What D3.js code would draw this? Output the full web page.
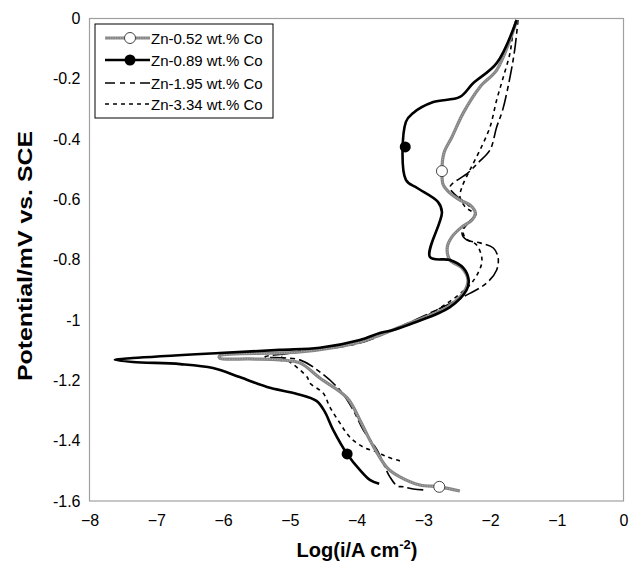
<!DOCTYPE html>
<html><head><meta charset="utf-8">
<script src="https://cdn.jsdelivr.net/npm/d3@7"></script>
<style>body{margin:0;background:#fff}svg{display:block}text{font-family:"Liberation Sans",Arial,sans-serif}</style>
</head><body>
<svg id="c" width="632" height="564"></svg>
<script>
const xTicks = [-8,-7,-6,-5,-4,-3,-2,-1,0];
const yTicks = [0,-0.2,-0.4,-0.6,-0.8,-1,-1.2,-1.4,-1.6];
const seriesNames = ["Zn-0.52 wt.% Co","Zn-0.89 wt.% Co","Zn-1.95 wt.% Co","Zn-3.34 wt.% Co"];

const s052 = [[-2.45,-1.567],[-2.76,-1.553],[-3.05,-1.547],[-3.35,-1.52],[-3.54,-1.49],[-3.69,-1.441],[-3.8,-1.398],[-3.95,-1.331],[-4.14,-1.258],[-4.55,-1.192],[-4.85,-1.142],[-5.15,-1.132],[-5.6,-1.129],[-6.05,-1.126],[-6.05,-1.119],[-4.85,-1.106],[-3.95,-1.073],[-3.65,-1.05],[-3.2,-1.01],[-2.64,-0.957],[-2.4,-0.91],[-2.33,-0.867],[-2.42,-0.827],[-2.6,-0.801],[-2.64,-0.758],[-2.57,-0.724],[-2.42,-0.691],[-2.27,-0.668],[-2.22,-0.645],[-2.3,-0.618],[-2.45,-0.602],[-2.6,-0.579],[-2.7,-0.552],[-2.72,-0.506],[-2.69,-0.446],[-2.57,-0.393],[-2.4,-0.313],[-2.15,-0.227],[-1.9,-0.171],[-1.7,-0.071],[-1.6,-0.005]];
const s089 = [[-3.66,-1.543],[-3.8,-1.53],[-3.95,-1.497],[-4.14,-1.444],[-4.35,-1.364],[-4.48,-1.302],[-4.6,-1.268],[-4.89,-1.245],[-5.34,-1.222],[-5.75,-1.189],[-6.15,-1.159],[-6.64,-1.146],[-7.35,-1.139],[-7.62,-1.132],[-7.35,-1.126],[-6.05,-1.109],[-5.15,-1.099],[-4.55,-1.092],[-3.95,-1.066],[-3.65,-1.043],[-3.45,-1.033],[-3.15,-1.01],[-2.6,-0.957],[-2.35,-0.9],[-2.32,-0.867],[-2.4,-0.827],[-2.6,-0.801],[-2.9,-0.791],[-2.72,-0.642],[-2.78,-0.608],[-3.09,-0.562],[-3.26,-0.535],[-3.26,-0.343],[-3.15,-0.313],[-2.85,-0.277],[-2.45,-0.26],[-2.25,-0.214],[-1.9,-0.148],[-1.6,-0.005]];
const s195 = [[-3.0,-1.563],[-3.15,-1.56],[-3.3,-1.553],[-3.39,-1.55],[-3.5,-1.52],[-3.6,-1.474],[-3.69,-1.431],[-3.9,-1.364],[-4.05,-1.298],[-4.25,-1.232],[-4.55,-1.172],[-4.85,-1.132],[-5.37,-1.122],[-4.85,-1.106],[-3.95,-1.076],[-3.39,-1.026],[-2.9,-0.977],[-2.4,-0.923],[-2.05,-0.877],[-1.9,-0.834],[-1.88,-0.791],[-1.95,-0.761],[-2.15,-0.744],[-2.35,-0.734],[-2.42,-0.711],[-2.3,-0.671],[-2.21,-0.648],[-2.33,-0.618],[-2.52,-0.585],[-2.6,-0.559],[-2.33,-0.512],[-2.18,-0.479],[-2.0,-0.436],[-1.9,-0.36],[-1.81,-0.303],[-1.7,-0.194],[-1.63,-0.104],[-1.58,-0.005]];
const s334 = [[-3.35,-1.467],[-3.54,-1.454],[-3.69,-1.438],[-3.9,-1.421],[-4.1,-1.388],[-4.25,-1.341],[-4.4,-1.288],[-4.5,-1.242],[-4.7,-1.209],[-4.74,-1.189],[-5.04,-1.132],[-5.15,-1.119],[-4.85,-1.103],[-3.95,-1.069],[-3.42,-1.03],[-2.9,-0.98],[-2.33,-0.89],[-2.18,-0.844],[-2.12,-0.801],[-2.2,-0.751],[-2.37,-0.728],[-2.4,-0.695],[-2.22,-0.652],[-2.37,-0.625],[-2.45,-0.592],[-2.42,-0.559],[-2.3,-0.502],[-2.15,-0.436],[-2.0,-0.36],[-1.9,-0.27],[-1.8,-0.194],[-1.7,-0.114],[-1.65,-0.038],[-1.61,-0.005]];
const markers052 = [[-2.72,-0.506],[-2.76,-1.553]];
const markers089 = [[-3.27,-0.426],[-4.14,-1.444]];

const svg = d3.select("#c");
const L=89.5,R=623.5,T=18.5,B=501;
const x = d3.scaleLinear().domain([-8,0]).range([L,R]);
const y = d3.scaleLinear().domain([-1.6,0]).range([B,T]);

svg.append("rect").attr("x",L).attr("y",T).attr("width",R-L).attr("height",B-T)
  .attr("fill","none").attr("stroke","#a0a0a0").attr("stroke-width",1.2);

const xa = svg.append("g").attr("transform",`translate(0,${B})`)
  .call(d3.axisBottom(x).tickValues(xTicks).tickSize(0).tickPadding(14).tickFormat(d3.format("")));
xa.select(".domain").remove();
xa.selectAll("text").attr("font-size",16).attr("font-family","Liberation Sans, Arial").attr("fill","#000");
const ya = svg.append("g").attr("transform",`translate(${L},0)`)
  .call(d3.axisLeft(y).tickValues(yTicks).tickSize(0).tickPadding(9).tickFormat(d=>String(d)));
ya.select(".domain").remove();
ya.selectAll("text").attr("font-size",16).attr("font-family","Liberation Sans, Arial").attr("fill","#000");

const line = d3.line().x(d=>x(d[0])).y(d=>y(d[1])).curve(d3.curveCatmullRom.alpha(0.5));
const styles = [
  {data:s195, stroke:"#000", w:1.6, dash:"16,4,5,4"},
  {data:s334, stroke:"#000", w:1.6, dash:"4,4"},
  {data:s052, stroke:"#858585", w:3.2, dash:null, tex:true},
  {data:s089, stroke:"#000", w:2.6, dash:null},
];
styles.forEach(s=>{
  const p = svg.append("path").attr("d",line(s.data)).attr("fill","none")
    .attr("stroke",s.stroke).attr("stroke-width",s.w).attr("stroke-linejoin","round");
  if(s.dash) p.attr("stroke-dasharray",s.dash);
  if(s.tex) svg.append("path").attr("d",line(s.data)).attr("fill","none")
    .attr("stroke","#b5b5b5").attr("stroke-width",1).attr("stroke-dasharray","1,1.5");
});
svg.selectAll(".m052").data(markers052).join("circle").attr("cx",d=>x(d[0])).attr("cy",d=>y(d[1]))
  .attr("r",5.5).attr("fill","#fff").attr("stroke","#444").attr("stroke-width",1);
svg.selectAll(".m089").data(markers089).join("circle").attr("cx",d=>x(d[0])).attr("cy",d=>y(d[1]))
  .attr("r",5.5).attr("fill","#000");

// legend
const lg = svg.append("g");
lg.append("rect").attr("x",95).attr("y",24).attr("width",178).attr("height",94)
  .attr("fill","#fff").attr("stroke","#000").attr("stroke-width",1);
const ly = [38,60,83,104];
const lst = [
  {stroke:"#858585",w:3.2,dash:null,tex:true,mk:"open"},
  {stroke:"#000",w:2.6,dash:null,mk:"fill"},
  {stroke:"#000",w:1.6,dash:"10,5,5,5,5,5,10"},
  {stroke:"#000",w:1.6,dash:"4,4"}
];
seriesNames.forEach((n,i)=>{
  const s=lst[i];
  const l=lg.append("line").attr("x1",105).attr("x2",150).attr("y1",ly[i]).attr("y2",ly[i])
    .attr("stroke",s.stroke).attr("stroke-width",s.w);
  if(s.dash) l.attr("stroke-dasharray",s.dash);
  if(s.tex) lg.append("line").attr("x1",105).attr("x2",150).attr("y1",ly[i]).attr("y2",ly[i])
    .attr("stroke","#b5b5b5").attr("stroke-width",1).attr("stroke-dasharray","1,1.5");
  if(s.mk==="open") lg.append("circle").attr("cx",130).attr("cy",ly[i]).attr("r",5.5).attr("fill","#fff").attr("stroke","#444");
  if(s.mk==="fill") lg.append("circle").attr("cx",130).attr("cy",ly[i]).attr("r",5.5).attr("fill","#000");
  lg.append("text").attr("x",151).attr("y",ly[i]+5.5).attr("font-size",15).text(n);
});

// axis titles
const xt = svg.append("text").attr("x",357).attr("y",557).attr("text-anchor","middle")
  .attr("font-size",20).attr("font-weight","bold");
xt.append("tspan").text("Log(i/A cm");
xt.append("tspan").attr("dy",-8).attr("font-size",13).text("-2");
xt.append("tspan").attr("dy",8).text(")");
svg.append("text").attr("transform","translate(32,256) rotate(-90)").attr("text-anchor","middle")
  .attr("font-size",21).attr("font-weight","bold").attr("textLength",250).attr("lengthAdjust","spacingAndGlyphs")
  .text("Potential/mV vs. SCE");
</script>
</body></html>
